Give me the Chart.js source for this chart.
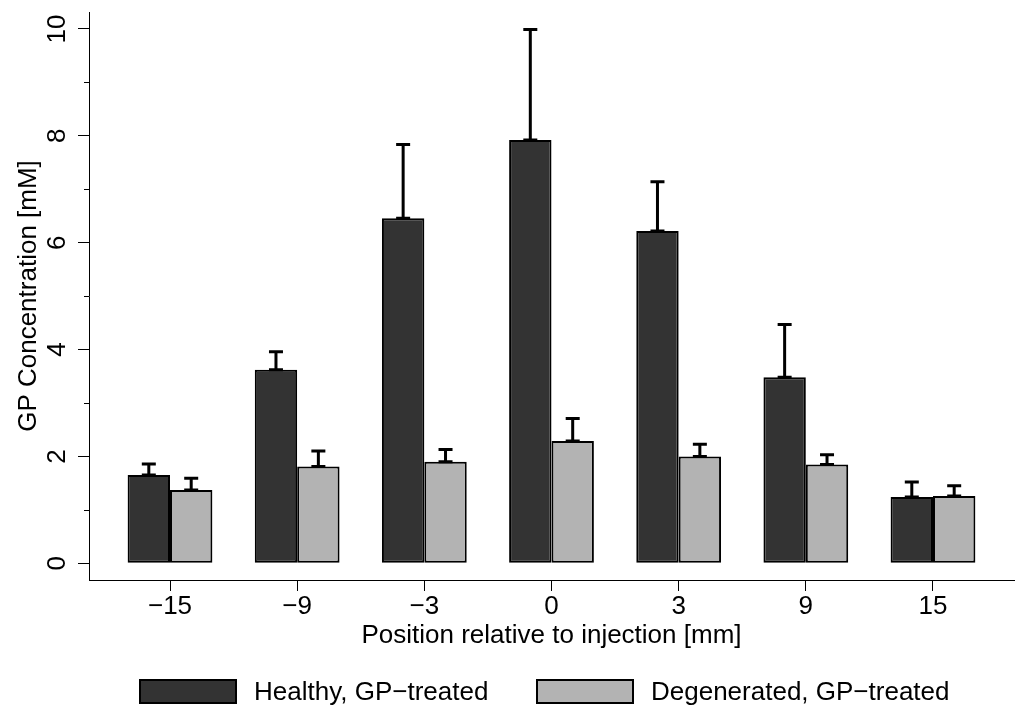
<!DOCTYPE html>
<html>
<head>
<meta charset="utf-8">
<script src="https://cdn.jsdelivr.net/npm/chart.js@4.4.1/dist/chart.umd.min.js"></script>
<style>
	html, body { margin: 0; padding: 0; background: #fff; }
	#wrap { position: relative; width: 1020px; height: 707px; }
	#legend {
		position: absolute; left: 0; top: 679px; width: 1020px; height: 25px;
		font: 26px "Liberation Sans", Arial, sans-serif; color: #000;
	}
	.item { position: absolute; top: 0; display: flex; align-items: center; height: 25px; white-space: nowrap; }
	.box { display: inline-block; width: 94px; height: 21px; border: 2px solid #000; margin-right: 17px; }
</style>
</head>
<body>
<div id="wrap">
	<canvas id="chart"></canvas>
	<div id="legend"></div>
</div>
<script>
// positions along the disc, mm
const positions = ['\u221215', '\u22129', '\u22123', '0', '3', '9', '15'];

// GP concentration [mM], mean and upper error
const healthyMean = [1.65, 3.62, 6.46, 7.92, 6.22, 3.48, 1.24];
const healthyErr = [0.21, 0.34, 1.38, 2.07, 0.92, 0.99, 0.28];
const degenMean = [1.37, 1.81, 1.90, 2.29, 2.00, 1.85, 1.26];
const degenErr = [0.22, 0.29, 0.23, 0.42, 0.23, 0.18, 0.19];

const yTicks = [0, 2, 4, 6, 8, 10];
const yMinorTicks = [1, 3, 5, 7, 9];

Chart.defaults.font.family = '"Liberation Sans", Arial, sans-serif';
Chart.defaults.font.size = 26;
Chart.defaults.color = '#000';

// upper error bars with caps on both ends
const errorBars = {
	id: 'errorBars',
	afterDatasetsDraw(chart) {
		const { ctx, scales: { y } } = chart;
		ctx.save();
		ctx.strokeStyle = '#000';
		ctx.lineWidth = 3;
		chart.data.datasets.forEach((ds, i) => {
			chart.getDatasetMeta(i).data.forEach((bar, j) => {
				const top = y.getPixelForValue(ds.data[j].y + ds.errors[j]);
				const x = bar.x;
				ctx.beginPath();
				ctx.moveTo(x, bar.y);
				ctx.lineTo(x, top);
				ctx.moveTo(x - 7, top);
				ctx.lineTo(x + 7, top);
				ctx.moveTo(x - 7, bar.y);
				ctx.lineTo(x + 7, bar.y);
				ctx.stroke();
			});
		});
		ctx.restore();
	}
};

// short unlabeled ticks on the y axis
const minorTicks = {
	id: 'minorTicks',
	afterDraw(chart) {
		const { ctx, chartArea, scales: { y } } = chart;
		ctx.save();
		ctx.strokeStyle = '#000';
		ctx.lineWidth = 1;
		yMinorTicks.forEach(v => {
			const py = Math.round(y.getPixelForValue(v)) + 0.5;
			ctx.beginPath();
			ctx.moveTo(chartArea.left - 5, py);
			ctx.lineTo(chartArea.left, py);
			ctx.stroke();
		});
		ctx.restore();
	}
};

const ctx = document.getElementById('chart').getContext('2d');
const chart = new Chart(ctx, {
	type: 'bar',
	data: {
		datasets: [{
			label: 'Healthy, GP\u2212treated',
			data: healthyMean.map((v, i) => ({ x: i, y: v })),
			errors: healthyErr,
			backgroundColor: '#333333',
			borderColor: '#000',
			borderWidth: 2,
			borderSkipped: false
		}, {
			label: 'Degenerated, GP\u2212treated',
			data: degenMean.map((v, i) => ({ x: i, y: v })),
			errors: degenErr,
			backgroundColor: '#b3b3b3',
			borderColor: '#000',
			borderWidth: 2,
			borderSkipped: false
		}]
	},
	options: {
		responsive: true,
		maintainAspectRatio: false,
		animation: false,
		categoryPercentage: 2 / 3,
		barPercentage: 1,
		layout: { padding: { top: 12, right: 6, bottom: 56, left: 0 } },
		plugins: {
			legend: { display: false },
			tooltip: { enabled: false }
		},
		scales: {
			x: {
				type: 'linear',
				min: -0.637,
				max: 6.637,
				offset: false,
				afterBuildTicks: s => { s.ticks = positions.map((_, i) => ({ value: i })); },
				afterFit: s => { s.height = 71; s.paddingLeft = 0; s.paddingRight = 0; },
				ticks: {
					callback: v => positions[v],
					padding: 0,
					maxRotation: 0,
					autoSkip: false
				},
				grid: { drawOnChartArea: false, offset: false, tickLength: 11, tickColor: '#000', tickWidth: 1 },
				border: { color: '#000', width: 1 },
				title: {
					display: true,
					text: 'Position relative to injection [mm]',
					padding: { top: 0, bottom: 0 }
				}
			},
			y: {
				min: -0.313,
				max: 10.318,
				afterBuildTicks: s => { s.ticks = yTicks.map(v => ({ value: v })); },
				afterFit: s => { s.width = 89; s.paddingTop = 0; s.paddingBottom = 0; },
				ticks: {
					minRotation: 90,
					maxRotation: 90,
					crossAlign: 'center',
					padding: 6,
					autoSkip: false
				},
				grid: { drawOnChartArea: false, tickLength: 11, tickColor: '#000', tickWidth: 1 },
				border: { color: '#000', width: 1 },
				title: {
					display: true,
					text: 'GP Concentration [mM]',
					padding: { top: 13, bottom: 0 }
				}
			}
		}
	},
	plugins: [errorBars, minorTicks]
});

// html legend from the datasets
const legendLeft = [139, 536];
const legendEl = document.getElementById('legend');
chart.data.datasets.forEach((ds, i) => {
	const item = document.createElement('div');
	item.className = 'item';
	item.style.left = legendLeft[i] + 'px';
	const box = document.createElement('span');
	box.className = 'box';
	box.style.background = ds.backgroundColor;
	const label = document.createElement('span');
	label.textContent = ds.label;
	item.append(box, label);
	legendEl.append(item);
});
</script>
</body>
</html>
